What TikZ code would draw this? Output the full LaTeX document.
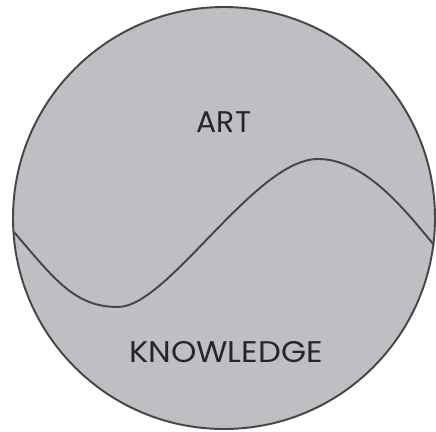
\documentclass[tikz,border=0pt]{standalone}
\usepackage{fontspec}
\setsansfont{Poppins}
\usepackage{tikz}
\usetikzlibrary{positioning}
\definecolor{discgray}{RGB}{190,191,195}
\definecolor{inkgray}{RGB}{70,70,72}
\tikzset{
  disc/.style={circle, draw=inkgray, fill=discgray, line width=1.1pt,
    minimum size=422\pxunit, inner sep=0pt},
  zonelabel/.style={font=\sffamily\fontsize{17}{19}\selectfont, text=black!85, inner sep=0pt},
  divider/.style={draw=inkgray, line width=1.1pt},
}
\newlength{\pxunit}
\setlength{\pxunit}{0.02cm}
\begin{document}
\begin{tikzpicture}[x=0.02cm, y=-0.02cm]
  \useasboundingbox (0,0) rectangle (436,432);
  \fill[white] (0,0) rectangle (436,432);
  \node (circ) [disc] at (224,218) {};
  \node (art) [zonelabel] at (224,122) {ART};
  \node (know) [zonelabel, xscale=1.08] at (226,352) {KNOWLEDGE};
  % wave between the two zones
  \draw[divider] (14,232) .. controls (55,280) and (75,307) .. (118,307)
    .. controls (168,307) and (255,159) .. (318,159)
    .. controls (365,159) and (405,210) .. (434,245);
\end{tikzpicture}
\end{document}
